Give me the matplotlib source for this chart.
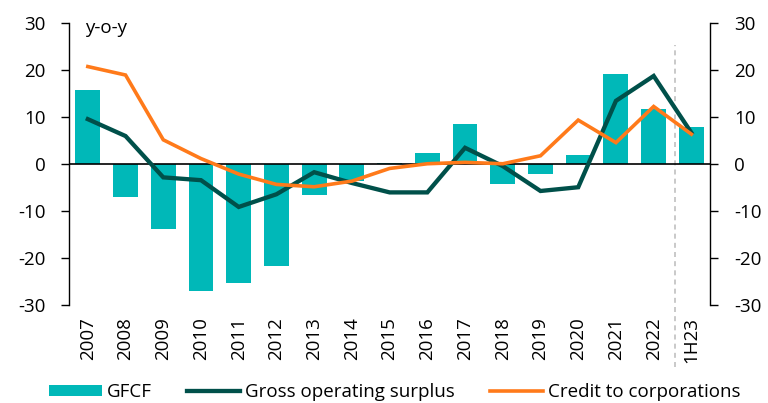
import matplotlib
matplotlib.use("Agg")
import matplotlib.pyplot as plt
import matplotlib.transforms as mtransforms
import numpy as np

plt.rcParams['font.family'] = ['Open Sans', 'DejaVu Sans']
plt.rcParams['axes.unicode_minus'] = False

categories = ["2007", "2008", "2009", "2010", "2011", "2012", "2013", "2014",
              "2015", "2016", "2017", "2018", "2019", "2020", "2021", "2022", "1H23"]
gfcf = [15.8, -7.0, -13.8, -27.1, -25.3, -21.6, -6.6, -3.6, 0.3, 2.3, 8.5,
        -4.3, -2.1, 2.0, 19.2, 11.7, 8.0]
gos = [9.6, 6.0, -2.8, -3.4, -9.1, -6.4, -1.7, -4.0, -6.0, -6.0, 3.5,
       -0.4, -5.7, -4.9, 13.5, 18.8, 6.7]
credit = [20.8, 19.0, 5.2, 1.2, -2.1, -4.3, -4.8, -3.6, -0.9, 0.1, 0.4,
          0.1, 1.8, 9.4, 4.6, 12.3, 6.4]
yticks = [-30, -20, -10, 0, 10, 20, 30]

c_bar = "#00B8B8"
c_gos = "#00504A"
c_cred = "#FF7A1A"
fs = 13.5

fig = plt.figure(figsize=(7.68, 4.03), dpi=100)
ax = fig.add_axes([0.0898, 0.243, 0.835, 0.699])
x = np.arange(len(categories))

ax.bar(x, gfcf, width=0.66, color=c_bar, label="GFCF", zorder=2)
ax.plot(x, gos, color=c_gos, lw=3.1, label="Gross operating surplus", zorder=4,
        solid_joinstyle='miter')
ax.plot(x, credit, color=c_cred, lw=2.6, label="Credit to corporations", zorder=5,
        solid_joinstyle='miter')
ax.axhline(0, color="black", lw=1.2, zorder=3)
ax.axvline(15.57, ymin=-0.22, ymax=0.923, color="#C0C0C0", lw=1.2,
           ls=(0, (3, 2.5)), clip_on=False, zorder=1)

ax.set_xlim(-0.5, 16.5)
ax.set_ylim(-30, 30)
ax.set_yticks(yticks)
ax.set_xticks(x)
ax.set_xticklabels(categories, rotation=90, fontsize=fs)
ax.tick_params(axis='x', length=0, pad=9)
ax.tick_params(axis='y', length=6, width=1, pad=11, labelsize=fs)
for s in ['top', 'bottom', 'right']:
    ax.spines[s].set_visible(False)
ax.spines['left'].set_linewidth(1)

ax2 = ax.twinx()
ax2.set_ylim(-30, 30)
ax2.set_yticks(yticks)
ax2.tick_params(axis='y', length=6, width=1, pad=11, labelsize=fs)
for s in ['top', 'bottom', 'left']:
    ax2.spines[s].set_visible(False)
ax2.spines['right'].set_linewidth(1)

trans = mtransforms.blended_transform_factory(ax.transAxes, ax.transData)
ax.text(0.025, 27.9, "y-o-y", transform=trans, fontsize=fs, ha='left', va='baseline')

h, l = ax.get_legend_handles_labels()
order = [2, 0, 1]
fig.legend([h[i] for i in order], [l[i] for i in order], loc='center',
           bbox_to_anchor=(0.514, 0.027), ncol=3, frameon=False, fontsize=fs,
           handlelength=2.8, handletextpad=0.27, columnspacing=1.9,
           handleheight=0.6)

fig.savefig("out.png", dpi=100)
